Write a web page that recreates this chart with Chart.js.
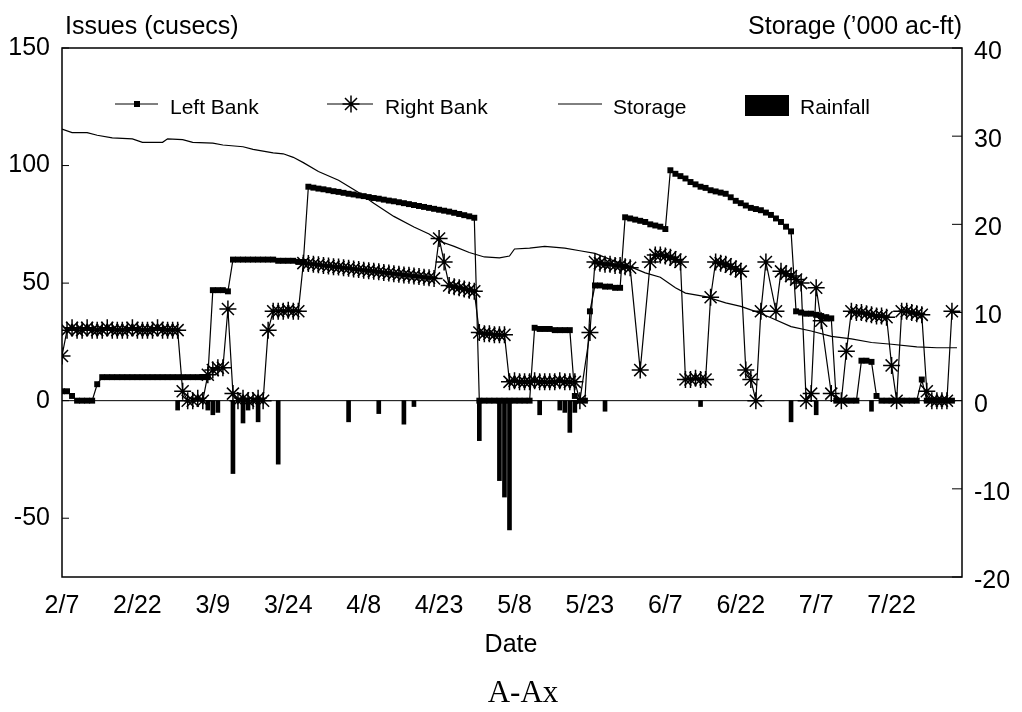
<!DOCTYPE html>
<html>
<head>
<meta charset="utf-8">
<title>A-Ax issues and storage</title>
<script src="https://cdn.jsdelivr.net/npm/chart.js@4.4.1/dist/chart.umd.min.js"></script>
<style>
  html, body { margin: 0; padding: 0; background: #fff; }
  canvas { display: block; }
</style>
</head>
<body>
<canvas id="issuesChart" width="1022" height="712"></canvas>
<script>
// Daily issues (cusecs), index = days after 2/7
const leftBank = [
  4, 4, 2, 0, 0, 0, 0, 7, 10,
  10, 10, 10, 10, 10, 10, 10, 10, 10, 10, 10, 10, 10, 10, 10, 10, 10, 10, 10, 10, 10,
  47, 47, 47, 46.5,
  60, 60, 60, 60, 60, 60, 60, 60, 60, 59.5, 59.5, 59.5, 59.5, 59, 59,
  91, 90.6, 90.2, 89.9, 89.5, 89.1, 88.8, 88.4, 88, 87.7, 87.3, 87, 86.6, 86.2, 85.9, 85.5, 85.1,
  84.8, 84.4, 84, 83.6, 83.2, 82.8, 82.4, 82, 81.6, 81.2, 80.8, 80.4, 79.9, 79.4, 78.9, 78.4, 77.8,
  0, 0, 0, 0, 0, 0, 0, 0, 0, 0, 0,
  31, 30.5, 30.5, 30.5, 30, 30, 30, 30,
  2, 0, 0, 38,
  49, 49, 48.5, 48.5, 48, 48,
  78, 77.5, 77, 76.5, 76, 75, 74.5, 74, 73,
  98, 96.5, 95.5, 94.5, 93, 92, 91, 90.5, 89.5, 89, 88.5, 88, 86.5, 85, 84, 83, 82, 81.5, 81, 80,
  79, 77.5, 76, 74, 72,
  38, 37.5, 37, 37, 36.5, 36, 35.5, 35,
  0, 0, 0, 0, 0,
  17, 17, 16.5, 2,
  0, 0, 0, 0, 0, 0, 0, 0,
  9, 0, 0, 0, 0, 0, 0
];

const rightBank = [
  19,
  30, 31, 30, 30, 31, 30, 30, 30, 31, 30, 30, 30, 30, 31, 30, 30, 30, 30, 31, 30, 30, 30, 30,
  4, 0, 0, 1, 0, 11, 13, 14, 14, 39, 3,
  0, 1, 0, 0, 1, 0, 30,
  38, 38, 38, 38.5, 38, 38,
  58.5, 58.3, 58, 57.8, 57.5, 57.3, 57, 56.8, 56.5, 56.3, 56, 55.8, 55.5, 55.3, 55,
  54.8, 54.5, 54.3, 54, 53.8, 53.5, 53.3, 53, 52.8, 52.5, 52.3, 52,
  69, 59, 49, 48.5, 48, 47.5, 47, 46.5,
  29, 28.5, 28.5, 28, 28, 28,
  8, 8.5, 8, 8, 8, 8.5, 8, 8, 8, 8, 8.5, 8, 8, 8,
  0, null, 29,
  59, 58.5, 58, 58, 57.5, 57.5, 57, 56.5,
  null, 13, null, 59,
  62, 62, 61.5, 61, 60, 59,
  9, 9, 9.5, 9, 9, 44,
  59, 58.5, 58, 57, 56, 55,
  13, 9, 0, 38, 59, null, 38,
  55, 54, 53, 51.5, 50,
  0, 3, 48, 34, null, 3, null, 0, 21,
  38, 37.5, 37.5, 37, 36.5, 36, 36, 35.5,
  15, 0,
  38, 38, 37.5, 37, 36.5,
  4, 0, 0, 0, 0, 38
];

// Reservoir storage ('000 ac-ft)
const storageDays = [0, 2, 5, 7, 10, 14, 16, 20, 21, 24, 26, 30, 32, 36, 38, 42, 44, 46, 48, 51,
  55, 59, 62, 66, 70, 73, 75, 78, 81, 84, 87, 89, 90, 93, 96, 100, 103, 106, 110, 113,
  116, 119, 122, 124, 128, 132, 135, 138, 141, 145, 149, 153, 157, 161, 165, 170, 174, 178];
const storage = [30.8, 30.4, 30.4, 30.1, 29.8, 29.7, 29.3, 29.3, 29.7, 29.6, 29.3, 29.2, 29.0, 28.8, 28.5, 28.1, 28.0, 27.6, 27.0, 26.0,
  25.0, 23.6, 22.4, 20.9, 19.7, 18.9, 18.1, 17.5, 16.8, 16.3, 16.2, 16.4, 17.2, 17.3, 17.5, 17.3, 17.0, 16.7, 15.8, 15.2,
  14.5, 14.0, 12.8, 12.2, 11.8, 11.1, 10.7, 10.1, 9.4, 8.4, 7.9, 7.3, 7.0, 6.6, 6.4, 6.1, 6.0, 6.0];

// Rainfall, plotted downward on the issues axis
const rainDays = [23, 29, 30, 31, 34, 36, 37, 39, 43, 57, 63, 68, 70, 83, 87, 88, 89, 95, 99, 100, 101, 102, 108, 127, 145, 150, 161];
const rainfall = [-4, -4, -6, -5, -31, -9.5, -4, -9, -27, -9, -5.5, -10, -2.5, -17, -34, -41, -55, -6, -4, -5, -13.5, -5, -4.5, -2.5, -9, -6, -4.5];

const xTickDays = [0, 15, 30, 45, 60, 75, 90, 105, 120, 135, 150, 165];
const xTickLabels = ['2/7', '2/22', '3/9', '3/24', '4/8', '4/23', '5/8', '5/23', '6/7', '6/22', '7/7', '7/22'];
const issuesTicks = [-50, 0, 50, 100, 150];
const storageTicks = [-20, -10, 0, 10, 20, 30, 40];

const FONT = '"Liberation Sans", Arial, Helvetica, sans-serif';

const toPoints = (values, days) => values.map((v, i) => ({ x: days ? days[i] : i, y: v }));

function drawStar(ctx, x, y, r) {
  ctx.beginPath();
  for (let k = 0; k < 4; k++) {
    const a = k * Math.PI / 4;
    ctx.moveTo(x - Math.cos(a) * r, y - Math.sin(a) * r);
    ctx.lineTo(x + Math.cos(a) * r, y + Math.sin(a) * r);
  }
  ctx.stroke();
}

// Frame, inward ticks, zero line, titles and the in-plot legend
const framePlugin = {
  id: 'frame',
  beforeDatasetsDraw(chart) {
    const { ctx, chartArea: a, scales } = chart;
    const y0 = scales.y.getPixelForValue(0);
    ctx.save();
    ctx.strokeStyle = '#000';
    ctx.lineWidth = 1;
    ctx.beginPath();
    ctx.moveTo(a.left, y0);
    ctx.lineTo(a.right, y0);
    ctx.stroke();
    ctx.restore();
  },
  afterDraw(chart) {
    const { ctx, chartArea: a, scales } = chart;
    ctx.save();
    ctx.strokeStyle = '#000';
    ctx.fillStyle = '#000';
    ctx.lineWidth = 1.5;
    ctx.strokeRect(a.left, a.top, a.right - a.left, a.bottom - a.top);

    ctx.lineWidth = 1;
    ctx.beginPath();
    issuesTicks.forEach(v => {
      const y = scales.y.getPixelForValue(v);
      ctx.moveTo(a.left, y);
      ctx.lineTo(a.left + 7, y);
    });
    storageTicks.forEach(v => {
      const y = scales.y1.getPixelForValue(v);
      ctx.moveTo(a.right - 10, y);
      ctx.lineTo(a.right, y);
    });
    ctx.stroke();

    // axis titles
    ctx.font = '25px ' + FONT;
    ctx.textBaseline = 'middle';
    ctx.textAlign = 'left';
    ctx.fillText('Issues (cusecs)', 65, 27);
    ctx.textAlign = 'right';
    ctx.fillText('Storage (\u2019000 ac-ft)', 962, 27);
    ctx.textAlign = 'center';
    ctx.fillText('Date', 511, 645);
    ctx.font = '31px "Liberation Serif", "Times New Roman", serif';
    ctx.fillText('A-Ax', 523, 694);

    // legend
    const ly = 104;
    ctx.lineWidth = 1;
    ctx.beginPath();
    ctx.moveTo(115, ly); ctx.lineTo(158, ly);
    ctx.moveTo(327, ly); ctx.lineTo(373, ly);
    ctx.moveTo(558, ly); ctx.lineTo(602, ly);
    ctx.stroke();
    ctx.fillRect(134, ly - 3, 6, 6);
    ctx.lineWidth = 1.5;
    drawStar(ctx, 351, ly, 8.5);
    ctx.fillRect(745, 95, 44, 21);

    ctx.font = '21px ' + FONT;
    ctx.textAlign = 'left';
    ctx.textBaseline = 'middle';
    ctx.fillText('Left Bank', 170, 108);
    ctx.fillText('Right Bank', 385, 108);
    ctx.fillText('Storage', 613, 108);
    ctx.fillText('Rainfall', 800, 108);
    ctx.restore();
  }
};

const tickFont = { family: FONT, size: 25 };

new Chart(document.getElementById('issuesChart'), {
  type: 'line',
  data: {
    datasets: [
      {
        label: 'Left Bank',
        data: toPoints(leftBank),
        yAxisID: 'y',
        borderColor: '#000',
        borderWidth: 1.2,
        pointStyle: 'rect',
        pointRadius: 4.2,
        pointBackgroundColor: '#000',
        pointBorderColor: '#000',
        pointBorderWidth: 0,
        tension: 0
      },
      {
        label: 'Right Bank',
        data: toPoints(rightBank),
        yAxisID: 'y',
        borderColor: '#000',
        borderWidth: 1.2,
        pointStyle: 'star',
        pointRadius: 8.5,
        pointBorderColor: '#000',
        pointBorderWidth: 1.5,
        spanGaps: true,
        tension: 0
      },
      {
        label: 'Storage',
        data: toPoints(storage, storageDays),
        yAxisID: 'y1',
        borderColor: '#000',
        borderWidth: 1.2,
        pointRadius: 0,
        tension: 0
      },
      {
        type: 'bar',
        label: 'Rainfall',
        data: toPoints(rainfall, rainDays),
        yAxisID: 'y',
        backgroundColor: '#000',
        borderWidth: 0,
        barThickness: 4
      }
    ]
  },
  options: {
    responsive: false,
    animation: false,
    events: [],
    layout: { padding: { top: 48, left: 0, right: 0, bottom: 0 } },
    plugins: {
      legend: { display: false },
      tooltip: { enabled: false }
    },
    scales: {
      x: {
        type: 'linear',
        min: 0,
        max: 179,
        offset: false,
        grid: { display: false, drawTicks: false, offset: false },
        border: { display: false },
        afterBuildTicks: s => { s.ticks = xTickDays.map(v => ({ value: v })); },
        afterFit: s => { s.height = 135; },
        ticks: {
          color: '#000',
          font: tickFont,
          padding: 14,
          maxRotation: 0,
          autoSkip: false,
          callback: v => xTickLabels[xTickDays.indexOf(v)]
        }
      },
      y: {
        position: 'left',
        min: -75,
        max: 150,
        grid: { display: false, drawTicks: false },
        border: { display: false },
        afterBuildTicks: s => { s.ticks = issuesTicks.map(v => ({ value: v })); },
        afterFit: s => { s.width = 62; },
        ticks: { color: '#000', font: tickFont, padding: 12 }
      },
      y1: {
        position: 'right',
        min: -20,
        max: 40,
        grid: { display: false, drawTicks: false },
        border: { display: false },
        afterBuildTicks: s => { s.ticks = storageTicks.map(v => ({ value: v })); },
        afterFit: s => { s.width = 60; },
        ticks: { color: '#000', font: tickFont, padding: 12, labelOffset: 4 }
      }
    }
  },
  plugins: [framePlugin]
});
</script>
</body>
</html>
